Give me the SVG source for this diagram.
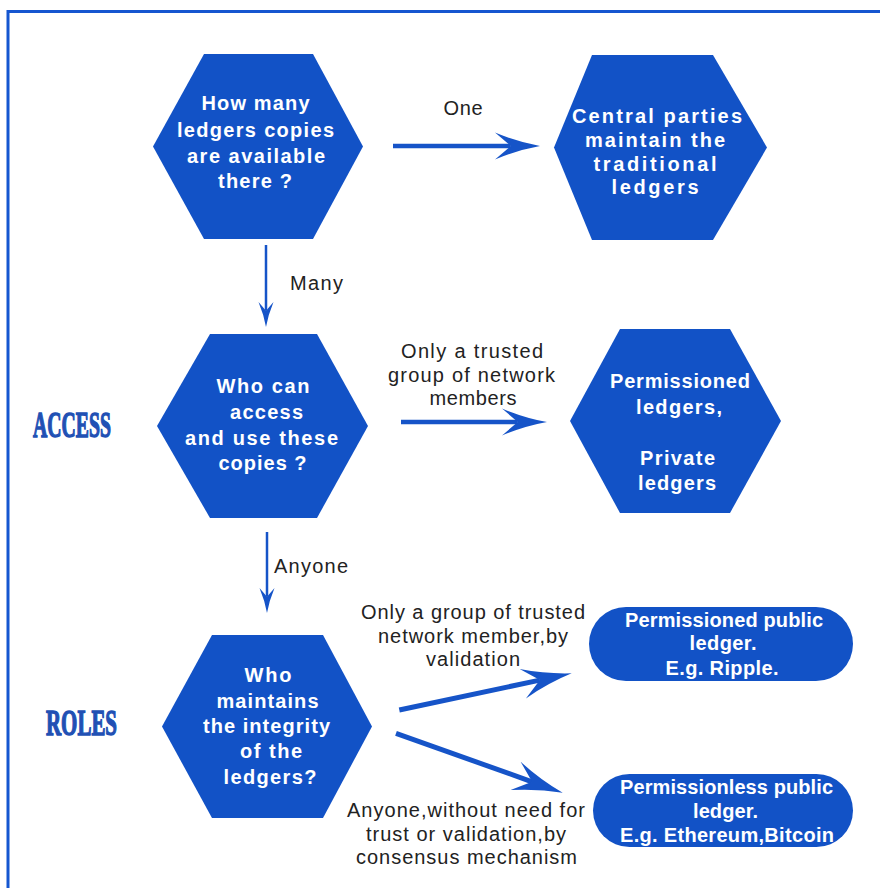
<svg xmlns="http://www.w3.org/2000/svg" width="880" height="888" viewBox="0 0 880 888">
  <defs>
    <!-- swept arrowhead, scaled by the stroke width of each connector -->
    <marker id="arrowhead" viewBox="0 -3.5 10 7" refX="3.5" refY="0" markerWidth="10" markerHeight="7" markerUnits="strokeWidth" orient="auto">
      <path d="M10,0 Q5,-0.9 0,-3 L3.5,0 L0,3 Q5,0.9 10,0 Z" fill="#1654c8"/>
    </marker>
  </defs>
  <style>
    .shape{fill:#1252c6}
    .nt{font-family:"Liberation Sans",Arial,sans-serif;font-size:20px;font-weight:bold;fill:#ffffff;text-anchor:middle}
    .lbl{font-family:"Liberation Sans",Arial,sans-serif;font-size:20px;fill:#222222;text-anchor:middle}
    .sec{font-family:"Liberation Serif","Times New Roman",serif;font-weight:bold;font-size:36px;fill:#2150b4;stroke:#2150b4;stroke-width:1.4}
    .conn{stroke:#1654c8;fill:none;marker-end:url(#arrowhead)}
    .frame{stroke:#1556d0;stroke-width:3;fill:none}
  </style>

  <rect width="880" height="888" fill="#ffffff"/>
  <path class="frame" d="M8,888 V11.5 H880"/>

  <!-- section headings -->
  <text class="sec" x="33" y="437" textLength="78" lengthAdjust="spacingAndGlyphs">ACCESS</text>
  <text class="sec" x="46" y="735" textLength="71" lengthAdjust="spacingAndGlyphs">ROLES</text>

  <!-- nodes -->
  <g id="q-copies">
    <polygon class="shape" points="204,54 313,54 363,146.5 313,239 204,239 153,146.5"/>
    <text class="nt" x="255.5" y="110" textLength="108">How many</text>
    <text class="nt" x="255.5" y="136.5" textLength="157">ledgers copies</text>
    <text class="nt" x="256" y="162.5" textLength="138">are available</text>
    <text class="nt" x="255" y="188" textLength="74">there ?</text>
  </g>

  <g id="central-parties">
    <polygon class="shape" points="592,55 713,55 767,147.5 713,240 592,240 554,147.5"/>
    <text class="nt" x="657" y="123" textLength="170">Central parties</text>
    <text class="nt" x="655" y="147" textLength="140">maintain the</text>
    <text class="nt" x="655" y="171" textLength="123">traditional</text>
    <text class="nt" x="655" y="194" textLength="87">ledgers</text>
  </g>

  <g id="q-access">
    <polygon class="shape" points="210,334 317,334 368,426 317,518 210,518 157,426"/>
    <text class="nt" x="263" y="393" textLength="93">Who can</text>
    <text class="nt" x="266.5" y="419" textLength="73">access</text>
    <text class="nt" x="261.5" y="445" textLength="153">and use these</text>
    <text class="nt" x="262.5" y="470" textLength="88">copies ?</text>
  </g>

  <g id="permissioned-private">
    <polygon class="shape" points="620,329 730,329 781,421 730,513 620,513 570,421"/>
    <text class="nt" x="680" y="388" textLength="140">Permissioned</text>
    <text class="nt" x="679" y="414" textLength="86">ledgers,</text>
    <text class="nt" x="677.5" y="465" textLength="75">Private</text>
    <text class="nt" x="677" y="490" textLength="78">ledgers</text>
  </g>

  <g id="q-roles">
    <polygon class="shape" points="212,635 323,635 372,726.5 323,818 212,818 162,726.5"/>
    <text class="nt" x="268" y="682" textLength="47">Who</text>
    <text class="nt" x="267.5" y="707.5" textLength="102">maintains</text>
    <text class="nt" x="266.5" y="733" textLength="127">the integrity</text>
    <text class="nt" x="271" y="758" textLength="62">of the</text>
    <text class="nt" x="270" y="783.5" textLength="93">ledgers?</text>
  </g>

  <g id="permissioned-public">
    <rect class="shape" x="589" y="607" width="264" height="74" rx="37"/>
    <text class="nt" x="724" y="627" textLength="198">Permissioned public</text>
    <text class="nt" x="723" y="650" textLength="67">ledger.</text>
    <text class="nt" x="722" y="675" textLength="113">E.g. Ripple.</text>
  </g>

  <g id="permissionless-public">
    <rect class="shape" x="593" y="774" width="260" height="73" rx="36.5"/>
    <text class="nt" x="726.5" y="794" textLength="213">Permissionless public</text>
    <text class="nt" x="725.5" y="818" textLength="65">ledger.</text>
    <text class="nt" x="727" y="842" textLength="214">E.g. Ethereum,Bitcoin</text>
  </g>

  <!-- connectors and their labels -->
  <g id="connectors">
    <line class="conn" x1="393" y1="146" x2="510.75" y2="146" stroke-width="4.5"/>
    <line class="conn" x1="266" y1="245" x2="266" y2="310.75" stroke-width="2.5"/>
    <line class="conn" x1="401" y1="422" x2="517.75" y2="422" stroke-width="4.5"/>
    <line class="conn" x1="267" y1="532" x2="267" y2="596.75" stroke-width="2.5"/>
    <line class="conn" x1="399.3" y1="710" x2="539.9" y2="680.1" stroke-width="5"/>
    <line class="conn" x1="396" y1="733.3" x2="532.1" y2="781.8" stroke-width="5"/>

    <text class="lbl" x="463" y="115" textLength="39">One</text>
    <text class="lbl" x="316.5" y="290" textLength="53">Many</text>
    <text class="lbl" x="311" y="573" textLength="74">Anyone</text>

    <text class="lbl" x="472" y="358" textLength="142">Only a trusted</text>
    <text class="lbl" x="471.5" y="382" textLength="167">group of network</text>
    <text class="lbl" x="473" y="405" textLength="87">members</text>

    <text class="lbl" x="473" y="619" textLength="224">Only a group of trusted</text>
    <text class="lbl" x="473" y="643" textLength="190">network member,by</text>
    <text class="lbl" x="473" y="666" textLength="94">validation</text>

    <text class="lbl" x="466" y="817" textLength="238">Anyone,without need for</text>
    <text class="lbl" x="466" y="841" textLength="200">trust or validation,by</text>
    <text class="lbl" x="466.5" y="863.5" textLength="221">consensus mechanism</text>
  </g>
</svg>
